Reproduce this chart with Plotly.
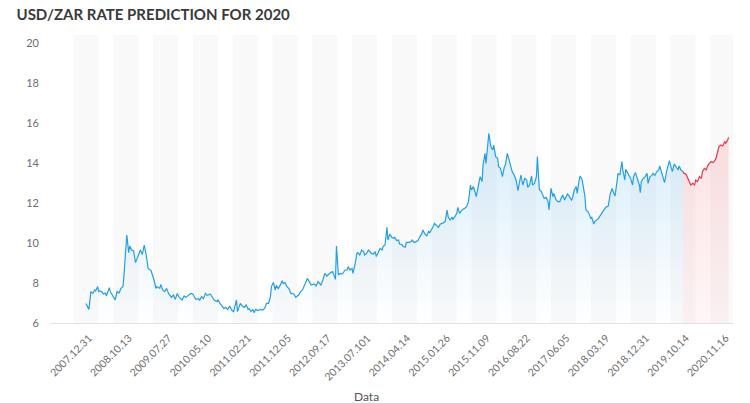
import plotly.graph_objects as go

# ---------------- data ----------------
tick_labels = ["2007.12.31", "2008.10.13", "2009.07.27", "2010.05.10", "2011.02.21",
               "2011.12.05", "2012.09.17", "2013.07.101", "2014.04.14", "2015.01.26",
               "2015.11.09", "2016.08.22", "2017.06.05", "2018.03.19", "2018.12.31",
               "2019.10.14", "2020.11.16"]
LABEL_EVERY = 41  # one date label every 41 observations

hist_obs = [0, 3, 5, 7, 9, 10, 12, 13, 14, 16, 18, 20, 21, 24, 25, 27, 30, 32, 34, 36, 38, 39,
            41, 42, 44, 45, 47, 49, 51, 54, 56, 58, 60, 62, 64, 67, 69, 70, 72, 73, 76, 77, 79,
            81, 83, 85, 88, 90, 92, 94, 96, 99, 101, 103, 105, 108, 110, 113, 116, 117, 119,
            121, 123, 125, 128, 130, 132, 135, 136, 138, 140, 142, 144, 146, 148, 150, 152,
            153, 155, 156, 159, 161, 163, 165, 167, 168, 170, 172, 173, 175, 177, 180, 182,
            184, 186, 188, 190, 191, 193, 195, 196, 198, 200, 202, 203, 205, 207, 209, 211,
            214, 216, 219, 221, 223, 226, 228, 230, 232, 235, 237, 239, 242, 244, 246, 248,
            250, 252, 254, 256, 257, 258, 260, 262, 264, 267, 269, 270, 272, 274, 275, 277,
            279, 280, 282, 284, 286, 287, 289, 291, 294, 296, 298, 299, 301, 303, 305, 306,
            308, 310, 311, 313, 315, 317, 318, 320, 322, 323, 325, 327, 329, 330, 333, 335,
            336, 338, 340, 342, 344, 346, 347, 349, 351, 353, 354, 356, 358, 359, 361, 363,
            365, 367, 370, 372, 373, 375, 377, 378, 380, 382, 383, 385, 386, 388, 390, 392,
            394, 396, 397, 399, 401, 402, 404, 406, 408, 409, 411, 412, 414, 415, 417, 419,
            420, 422, 424, 425, 427, 429, 431, 432, 434, 436, 437, 439, 441, 443, 444, 445,
            447, 448, 450, 452, 454, 455, 457, 459, 460, 462, 464, 465, 466, 467, 469, 470,
            472, 474, 476, 477, 478, 479, 481, 482, 484, 486, 488, 489, 491, 493, 494, 496,
            498, 500, 501, 503, 505, 506, 508, 509, 511, 512, 514, 515, 517, 518, 520, 521,
            523, 524, 526, 528, 529, 531, 533, 535, 536, 538, 540, 542, 543, 545, 547, 548,
            550, 552, 553, 555, 556, 558, 559, 561, 563, 564, 566, 568, 570, 571, 572, 574,
            576, 578, 579, 581, 583, 584, 586, 588, 590, 591, 593, 595, 596, 598, 600, 601,
            603, 604, 606, 608, 610, 611, 613, 615]
hist_rate = [6.98, 6.68, 7.57, 7.48, 7.65, 7.6, 7.82, 7.57, 7.6, 7.57, 7.45, 7.5, 7.35, 7.77,
             7.57, 7.4, 7.15, 7.57, 7.5, 7.73, 7.82, 8.32, 9.48, 10.4, 9.52, 9.85, 9.65, 9.6,
             9.02, 9.4, 9.65, 9.43, 9.9, 9.4, 8.73, 8.62, 8.32, 8.15, 7.73, 7.82, 7.73, 7.93,
             7.65, 7.57, 7.73, 7.48, 7.28, 7.4, 7.18, 7.48, 7.28, 7.15, 7.35, 7.28, 7.37, 7.48,
             7.45, 7.18, 7.22, 7.12, 7.32, 7.22, 7.48, 7.37, 7.45, 7.32, 7.15, 7.07, 7.15, 6.98,
             6.82, 6.73, 6.78, 6.68, 6.85, 6.65, 6.57, 6.73, 7.15, 6.57, 6.98, 6.85, 6.78, 6.9,
             6.68, 6.73, 6.57, 6.68, 6.52, 6.68, 6.62, 6.68, 6.65, 6.73, 6.98, 6.98, 7.32, 7.82,
             8.03, 7.65, 7.88, 7.72, 7.88, 8.12, 7.98, 8.02, 7.82, 7.72, 7.48, 7.45, 7.28, 7.4,
             7.57, 7.65, 7.98, 8.23, 8.07, 7.9, 7.95, 7.85, 8.07, 7.9, 8.15, 8.48, 8.35, 8.45,
             8.52, 8.57, 8.28, 8.18, 9.85, 8.4, 8.48, 8.45, 8.65, 8.65, 8.82, 8.65, 8.73, 8.48,
             8.9, 9.48, 9.52, 9.4, 9.65, 9.57, 9.4, 9.48, 9.65, 9.48, 9.45, 9.57, 9.32, 9.57,
             9.73, 9.65, 9.82, 9.9, 10.78, 10.15, 10.45, 10.28, 10.25, 10.28, 10.12, 10.15,
             9.95, 9.93, 9.82, 9.8, 10.03, 10.03, 10.07, 10.15, 10.03, 10.07, 10.12, 10.32,
             10.48, 10.65, 10.45, 10.35, 10.6, 10.5, 10.65, 10.85, 10.98, 10.85, 10.78, 10.95,
             10.98, 11.07, 11.65, 11.32, 11.15, 11.28, 11.18, 11.32, 11.48, 11.78, 11.48, 11.57,
             11.68, 11.73, 11.82, 12.07, 12.9, 12.65, 12.82, 12.52, 12.32, 12.82, 13.32, 13.07,
             13.9, 14.48, 13.98, 14.98, 15.48, 14.82, 14.65, 14.9, 14.32, 14.23, 13.82, 13.73,
             13.32, 13.82, 13.9, 14.48, 14.07, 13.98, 13.57, 13.4, 13.15, 12.9, 12.62, 13.15,
             13.4, 12.9, 13.23, 13.15, 12.78, 12.9, 13.35, 12.9, 12.98, 13.32, 14.32, 13.48,
             12.68, 12.57, 12.45, 12.23, 12.28, 12.07, 11.65, 12.23, 12.73, 12.32, 12.48, 12.18,
             12.07, 12.07, 12.18, 12.4, 12.15, 12.23, 12.45, 12.32, 12.15, 12.23, 12.65, 12.82,
             12.48, 13.15, 13.35, 13.18, 12.9, 12.32, 11.65, 11.57, 11.48, 11.23, 11.28, 10.95,
             11.07, 11.15, 11.23, 11.32, 11.48, 11.57, 11.75, 11.8, 11.85, 12.45, 12.73, 12.57,
             12.35, 13.07, 13.48, 13.4, 14.07, 13.65, 13.15, 13.68, 13.52, 13.4, 13.23, 12.9,
             13.32, 13.52, 13.23, 12.9, 12.52, 13.07, 13.23, 13.32, 13.48, 12.98, 13.32, 13.38,
             13.48, 13.38, 13.57, 13.65, 13.85, 13.48, 13.23, 13.02, 13.57, 13.9, 14.12, 13.73,
             13.57, 13.95, 13.82, 13.65, 13.85, 13.65, 13.57]

pred_obs = [615, 616, 618, 620, 621, 623, 625, 627, 628, 630, 632, 634, 635, 637, 639, 640,
            642, 644, 646, 647, 649, 651, 652, 654, 656, 658, 659, 661, 662]
pred_rate = [13.57, 13.48, 13.45, 13.23, 13.07, 12.9, 12.98, 12.9, 13.15, 13.07, 13.32, 13.23,
             13.57, 13.73, 13.65, 13.82, 13.98, 14.07, 14.02, 14.07, 14.23, 14.73, 14.82, 14.9,
             14.85, 15.07, 14.98, 15.15, 15.28]

y_ticks = [6, 8, 10, 12, 14, 16, 18, 20]

# ---------------- styling ----------------
BLUE = "#22a0e4"
RED = "#e8374d"
FONT = "Lato"

tick_pos = [i * LABEL_EVERY for i in range(len(tick_labels))]

fig = go.Figure()

fig.add_trace(go.Scatter(
    x=hist_obs, y=hist_rate, mode="lines",
    line=dict(color=BLUE, width=1.2),
    fill="tozeroy",
    fillgradient=dict(type="vertical", start=6, stop=15.5,
                      colorscale=[[0, "rgba(34,150,228,0.0)"], [1, "rgba(34,150,228,0.18)"]]),
    hoverinfo="skip", showlegend=False,
))
fig.add_trace(go.Scatter(
    x=pred_obs, y=pred_rate, mode="lines",
    line=dict(color=RED, width=1.2),
    fill="tozeroy",
    fillgradient=dict(type="vertical", start=6, stop=15.5,
                      colorscale=[[0, "rgba(240,80,90,0.05)"], [1, "rgba(240,80,90,0.17)"]]),
    hoverinfo="skip", showlegend=False,
))

half_band = 12.9
shapes = []
for p in tick_pos:
    shapes.append(dict(type="rect", xref="x", yref="y", x0=p - half_band, x1=p + half_band,
                       y0=6, y1=20.4, fillcolor="#f9f9f9", line=dict(width=0), layer="below"))

fig.update_layout(
    width=750, height=403,
    margin=dict(l=50, r=17, t=35, b=80),
    paper_bgcolor="white", plot_bgcolor="white",
    font=dict(family=FONT, color="#6e6e6e", size=10),
    title=dict(text="<b>USD/ZAR RATE PREDICTION FOR 2020</b>", x=0.022, xanchor="left",
               y=0.963, yanchor="middle", font=dict(family=FONT, size=15, color="#3a3a3a")),
    shapes=shapes,
    annotations=[dict(text="Data", xref="paper", yref="paper", x=0.4627, y=-0.2535,
                      xanchor="center", yanchor="middle", showarrow=False,
                      font=dict(size=12, color="#555"))],
    xaxis=dict(range=[-37.1, 666.5], tickvals=tick_pos, ticktext=tick_labels,
               tickangle=-45, showgrid=False, zeroline=False, showline=True,
               linecolor="#e2e2e2", linewidth=1, ticks="", automargin=False,
               ticklabelshift=3, ticklabelstandoff=4,
               tickfont=dict(size=10.5, color="#6e6e6e")),
    yaxis=dict(range=[6, 20.4], tickvals=y_ticks, showgrid=False, zeroline=False,
               showline=False, ticks="", automargin=False, ticklabelstandoff=10,
               tickfont=dict(size=11, color="#6e6e6e")),
)

fig.write_html("out.html", config={"displayModeBar": False},
               post_script="document.body.style.margin='0';")
